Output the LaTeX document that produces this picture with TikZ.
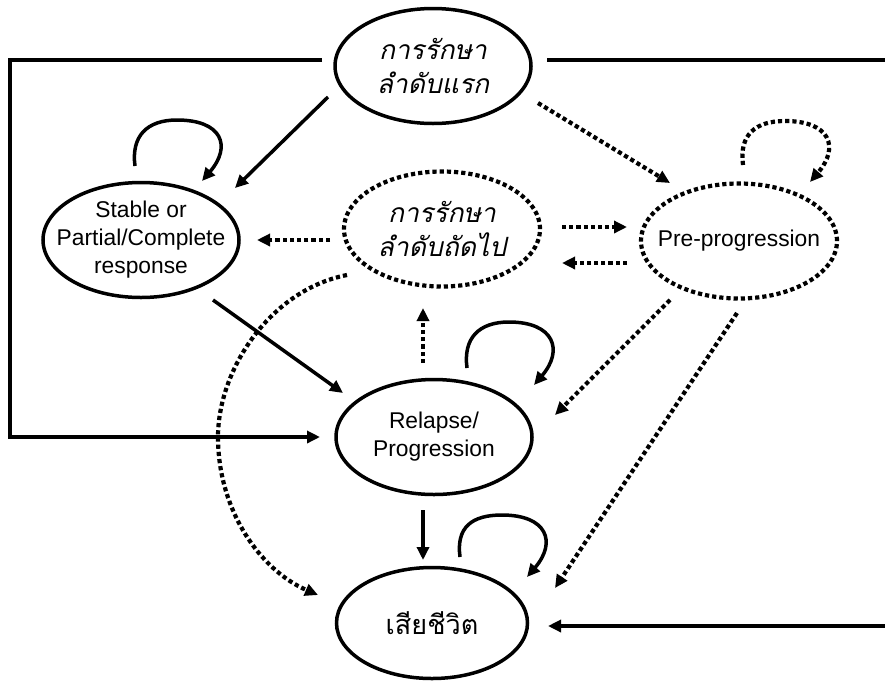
\documentclass[tikz,border=0pt]{standalone}
\usepackage{fontspec}
\setmainfont{Liberation Sans}
\newfontfamily\thaifont[Script=Thai]{Loma}
\usetikzlibrary{arrows.meta,shapes.geometric}

\tikzset{
  state/.style={ellipse, draw, line width=3.5pt, minimum width=196pt, minimum height=115pt, inner sep=0pt},
  dstate/.style={state, line width=4.2pt, dash pattern=on 4.2pt off 3pt},
  deathstate/.style={state, minimum width=191pt, minimum height=111pt},
  latin/.style={align=center, inner sep=0pt, font=\fontsize{22.8}{28}\selectfont},
  thai/.style={align=center, inner sep=0pt, font=\thaifont\fontsize{27}{34}\selectfont},
  thaiit/.style={thai, font=\thaifont\itshape\fontsize{26.5}{34}\selectfont},
  conn/.style={line width=3.5pt, -{Triangle[length=13pt,width=12pt]}},
  dconn/.style={conn, line width=4.2pt, dash pattern=on 4.2pt off 3pt},
}

\begin{document}
\begin{tikzpicture}[x=1pt,y=-1pt]
\useasboundingbox (0,0) rectangle (885,681);
\clip (0,0) rectangle (885,681);

% states
\node[state]      (T) at (433,66)  {};
\node[dstate]     (M) at (442,229) {};
\node[state]      (S) at (141,240) {};
\node[dstate]     (P) at (739,241) {};
\node[state]      (R) at (434,437) {};
\node[deathstate] (D) at (432,623) {};

% state labels
\node[thaiit] (T-t) at (T) {การรักษา\\ลำดับแรก};
\node[thaiit] (M-t) at (M) {การรักษา\\ลำดับถัดไป};
\node[latin]  (S-t) at (S) {Stable or\\Partial/Complete\\response};
\node[latin]  (P-t) at (P) {Pre-progression};
\node[latin]  (R-t) at (R) {Relapse/\\Progression};
\node[thai]   (D-t) at (D) {เสียชีวิต};

% rails along the outer edges
\coordinate (lrail) at (10,0);
\coordinate (rrail) at (889,0);
\coordinate (Tl) at ([shift={(-111,-6)}]T.center);
\coordinate (Rl) at ([shift={(-114,0)}]R.center);
\coordinate (Tr) at ([shift={(114,-6)}]T.center);
\coordinate (Dr) at ([shift={(116,3)}]D.center);
\draw[conn] (Tl) -- (Tl -| lrail) |- (Rl);
\draw[conn] (Tr) -- (Tr -| rrail) |- (Dr);

% straight transitions
\draw[conn]  ([shift={(-105,31)}]T.center) -- ([shift={(94,-52)}]S.center);
\draw[dconn] ([shift={(105,37)}]T.center)  -- ([shift={(-69,-58)}]P.center);
\draw[dconn] ([shift={(-112,11)}]M.center) -- ([shift={(116,0)}]S.center);
\draw[dconn] ([shift={(120,-2)}]M.center)  -- ([shift={(-112,-14)}]P.center);
\draw[dconn] ([shift={(-112,22)}]P.center) -- ([shift={(120,34)}]M.center);
\draw[conn]  ([shift={(72,60)}]S.center)   -- ([shift={(-91,-44)}]R.center);
\draw[dconn] ([shift={(-11,-74)}]R.center) -- ([shift={(-19,79)}]M.center);
\draw[dconn] ([shift={(-69,59)}]P.center)  -- ([shift={(121,-22)}]R.center);
\draw[dconn] ([shift={(-2,72)}]P.center)   -- ([shift={(123,-35)}]D.center);
\draw[conn]  ([shift={(-11,73)}]R.center)  -- ([shift={(-9,-63)}]D.center);

% curved transition from the second-line treatment to death
\draw[dconn] ([shift={(-95,46)}]M.center)
  .. controls +(-77,15) and +(0,-67) .. ([shift={(-216,0)}]R.center)
  .. controls +(0,73) and +(-58,-25) .. ([shift={(-114,-28)}]D.center);

% self loops
\draw[conn]  ([shift={(-6,-74)}]S.center)
  .. controls +(-4,-30) and +(-30,0) .. ++(42,-46)
  .. controls +(45,0) and +(30,-35) .. ++(25,61);
\draw[dconn] ([shift={(4,-76)}]P.center)
  .. controls +(-4,-30) and +(-30,0) .. ++(42,-44)
  .. controls +(45,0) and +(30,-35) .. ++(25,61);
\draw[conn]  ([shift={(33,-69)}]R.center)
  .. controls +(-4,-30) and +(-30,0) .. ++(42,-46)
  .. controls +(45,0) and +(30,-35) .. ++(25,63);
\draw[conn]  ([shift={(28,-66)}]D.center)
  .. controls +(-4,-30) and +(-30,0) .. ++(42,-42)
  .. controls +(45,0) and +(30,-35) .. ++(25,62);
\end{tikzpicture}
\end{document}
